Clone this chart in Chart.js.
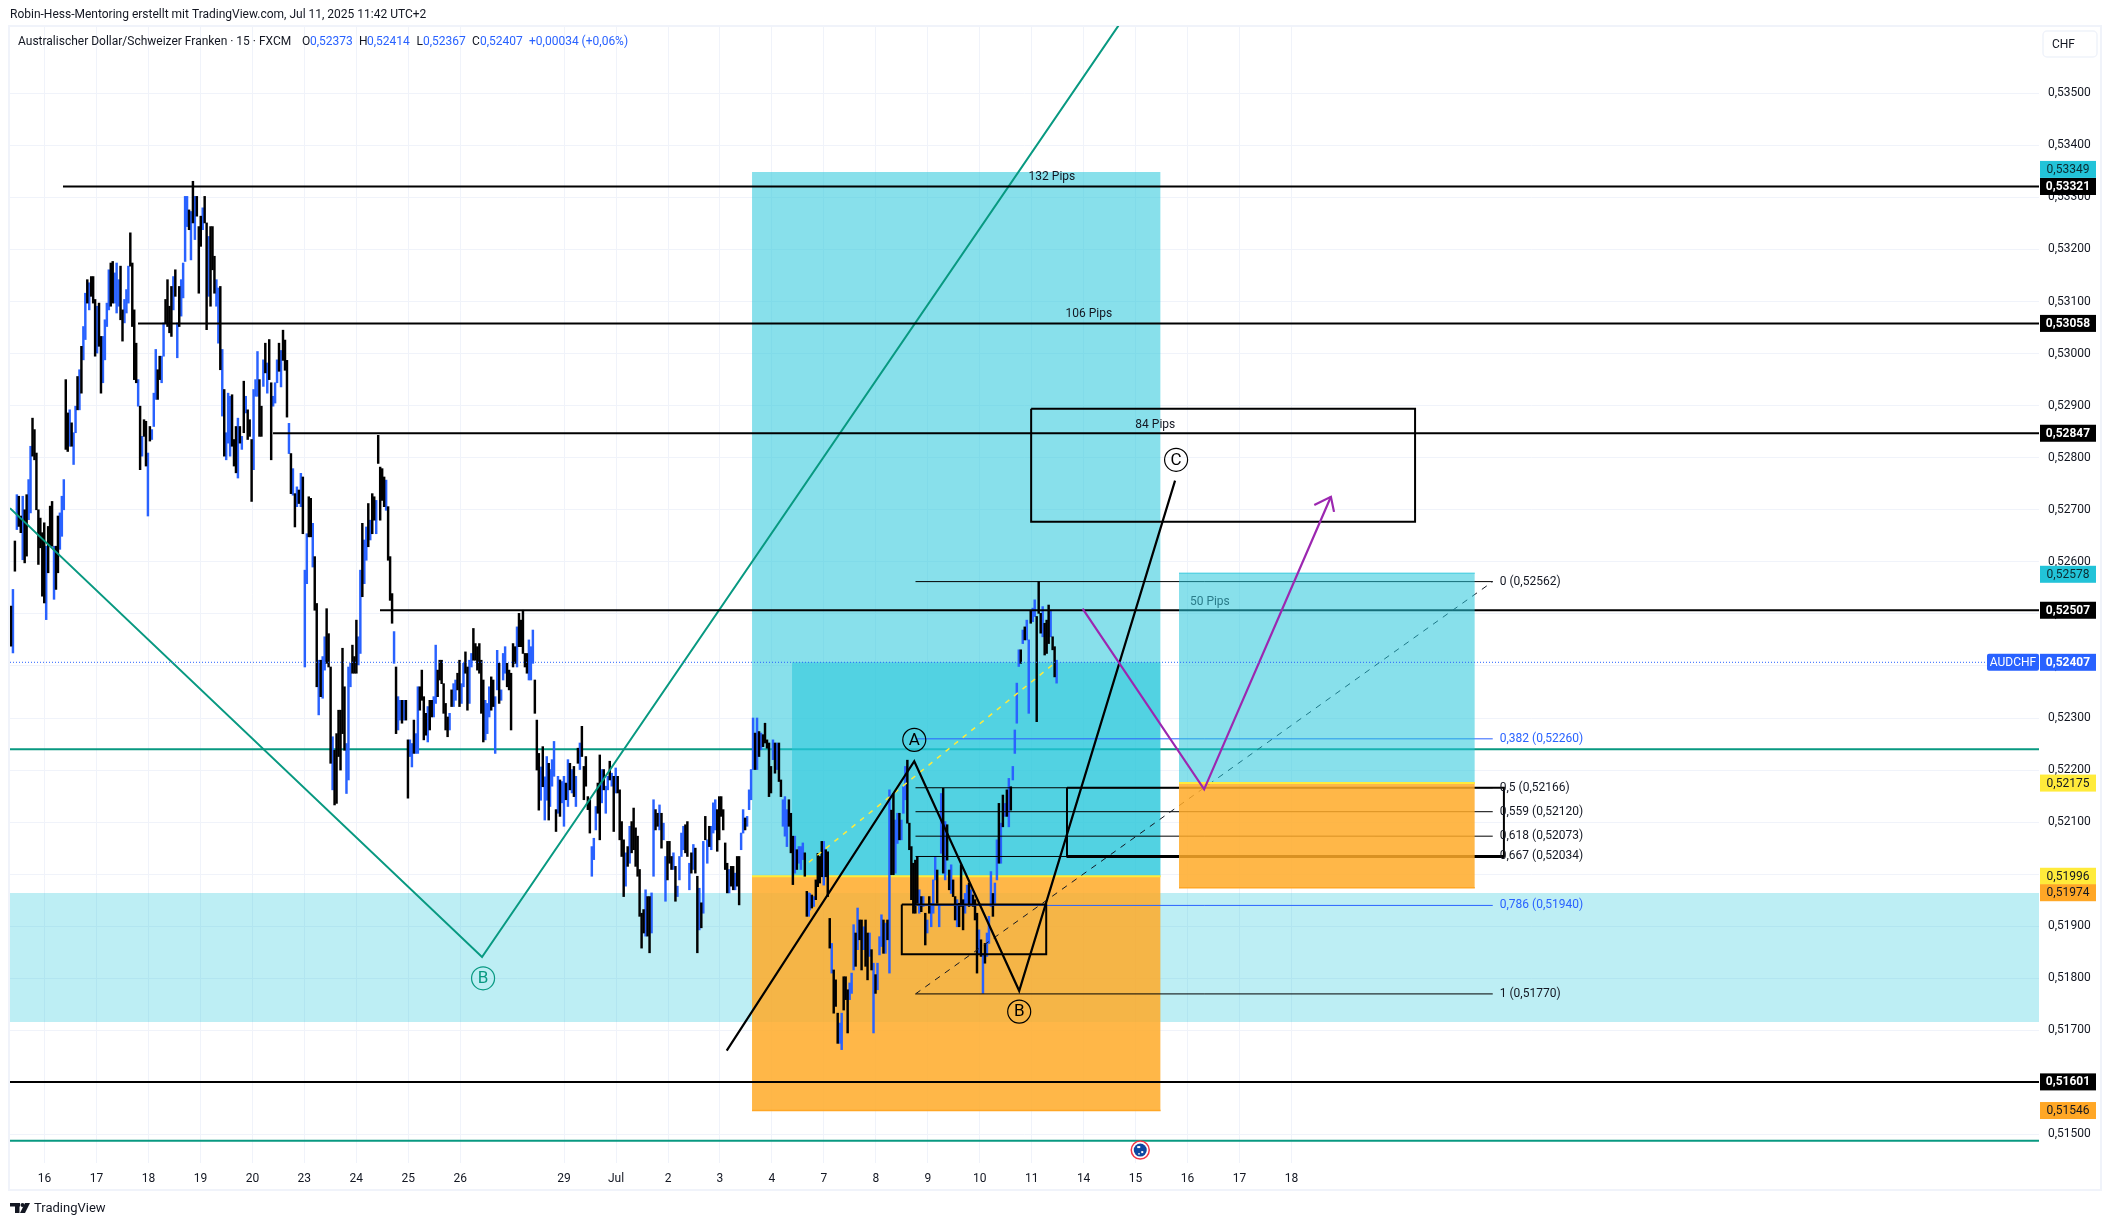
<!DOCTYPE html>
<html>
<head>
<meta charset="utf-8">
<title>AUDCHF 15</title>
<script src="https://cdn.jsdelivr.net/npm/chart.js@4"></script>
<style>
  html, body { margin: 0; padding: 0; background: #fff; }
  #wrap { width: 2111px; height: 1226px; }
</style>
</head>
<body>
<div id="wrap"><canvas id="chart" width="2111" height="1226"></canvas></div>
<script>
// Time axis: one unit is one trading day, 0 = the 16th
const dayPos = [0, 1, 2, 3, 4, 5, 6, 7, 8, 10, 11, 12, 13, 14, 15, 16, 17, 18, 19, 20, 21, 22, 23, 24];
const dayLabels = ['16', '17', '18', '19', '20', '23', '24', '25', '26', '29', 'Jul', '2', '3', '4', '7', '8', '9', '10', '11', '14', '15', '16', '17', '18'];
const priceTicks = [0.515, 0.516, 0.517, 0.518, 0.519, 0.52, 0.521, 0.522, 0.523, 0.524, 0.525, 0.526, 0.527, 0.528, 0.529, 0.53, 0.531, 0.532, 0.533, 0.534, 0.535];

// Price bars: [high, low, blue?], prices in 1e-5
const barsA = [
  [52515,52438,0],[52547,52425,1],[52640,52582,0],[52729,52662,1],[52726,52668,0],[52688,52656,0],[52726,52604,1],[52700,52598,0],
  [52729,52611,0],[52758,52681,1],[52822,52694,1],[52876,52803,0],[52854,52796,0],[52809,52700,0],[52700,52595,0],[52684,52627,0],
  [52656,52534,0],[52675,52521,0],[52630,52489,1],[52668,52579,0],[52707,52630,0],[52716,52630,0],[52630,52528,1],[52630,52547,0],
  [52688,52579,0],[52694,52624,1],[52726,52649,1],[52758,52700,1],[52950,52816,0],[52886,52812,0],[52892,52822,1],[52867,52822,0],
  [52848,52787,1],[52899,52848,1],[52956,52892,0],[52969,52892,1],[53014,52924,0],[53052,52988,1],[53116,53027,1],[53142,53097,0],
  [53136,53084,1],[53148,53110,0],[53148,53097,0],[53104,52995,0],[53091,53001,1],[53097,53014,0],[53033,52924,0],[53033,52944,1],
  [53065,52988,1],[53097,53052,1],[53161,53084,1],[53174,53091,0],[53177,53097,0],[53155,53097,1],[53174,53078,1],[53142,53091,1],
  [53168,53065,0],[53084,53024,0],[53104,53059,1],[53123,53078,1],[53168,53097,1],[53232,53168,0],[53174,53052,0],[53084,52950,0],
  [53020,52944,0],[52950,52899,1],[52899,52777,0],[52841,52803,1],[52873,52841,0],[52870,52784,0],[52809,52688,1],[52860,52832,0],
  [52854,52835,1],[52924,52860,1],[53008,52912,1],[52969,52912,0],[52995,52950,0],[52995,52944,1],[53059,52995,1],[53104,53059,0],
  [53142,53052,0],[53091,53040,0],[53129,53033,0],[53148,53084,1],[53161,53110,0],[53059,52992,1],[53129,53052,0],[53142,53072,1],
  [53174,53107,1],[53302,53177,1],[53302,53244,1],[53276,53238,0],[53273,53180,1],[53331,53251,0],[53302,53219,1],[53302,53264,0],
  [53244,53116,0],[53264,53206,0],[53280,53238,1],[53302,53251,0],[53251,53046,0],[53225,53110,1],[53244,53091,0],[53244,53161,0],
  [53187,53116,0],[53142,53091,1],[53126,53020,1],[53129,52969,0],[53008,52880,1],[52931,52803,0],[52848,52796,1],[52924,52828,1],
  [52918,52803,1],[52921,52822,0],[52835,52784,0],[52860,52771,0],[52876,52761,1],[52860,52828,0],[52841,52816,1],[52947,52848,0],
  [52918,52886,1],[52892,52835,0],[52873,52841,0],[52835,52716,0],[52931,52777,1],[52950,52918,1],[53004,52918,1],[52950,52841,0],
  [52899,52841,0],[52988,52937,1],[53020,52963,0],[52982,52924,1],[53027,52950,0],[52944,52796,0],[52918,52899,1],[52944,52905,1],
  [52988,52944,1],[53020,52966,0]
];
const barsB = [
  [53006,52936,1],[53045,52987,0],[53026,52968,0],[52987,52878,0],[52866,52808,1],[52808,52731,0],[52779,52728,1],[52731,52667,0],
  [52744,52706,1],[52738,52712,0],[52770,52706,1],[52763,52654,0],[52584,52398,1],[52654,52558,1],[52725,52648,0],[52722,52648,0],
  [52674,52590,1],[52610,52507,0],[52520,52360,0],[52411,52306,1],[52411,52341,0],[52418,52338,1],[52456,52392,1],[52510,52405,0],
  [52462,52398,0],[52398,52213,0],[52264,52162,1],[52238,52133,0],[52270,52136,0],[52315,52226,0],[52315,52200,0],[52434,52270,0],
  [52360,52238,0],[52251,52155,1],[52398,52181,1],[52405,52360,1],[52440,52386,0],[52418,52386,0],[52488,52386,0],[52456,52402,1],
  [52584,52424,1],[52674,52533,0],[52642,52558,1],[52667,52603,1],[52712,52629,0],[52680,52642,1],[52731,52654,0],[52725,52680,0],
  [52718,52654,1],[52843,52789,0],[52782,52680,0],[52779,52718,0],[52763,52706,0],[52757,52699,1],[52706,52603,0],[52610,52526,0],
  [52539,52482,0],[52466,52405,1],[52398,52270,0],[52341,52277,1],[52334,52296,1],[52334,52290,0],[52334,52296,1],[52334,52296,0],
  [52258,52146,0],[52258,52226,1],[52251,52206,1],[52296,52232,0],[52270,52232,1],[52360,52232,1],[52360,52315,0],[52392,52334,0],
  [52341,52258,0],[52309,52267,0],[52322,52254,1],[52334,52277,0],[52334,52302,0],[52341,52302,1],[52440,52328,1],[52392,52341,0],
  [52411,52373,0],[52411,52366,0],[52366,52309,0],[52328,52277,0],[52302,52264,0],[52309,52277,1],[52354,52322,0],[52366,52322,1],
  [52373,52334,1],[52386,52354,0],[52411,52322,0],[52366,52328,1],[52405,52360,1],[52427,52386,0],[52398,52315,0],[52411,52328,1],
  [52424,52398,1],[52472,52411,0],[52443,52411,0],[52437,52392,0],[52443,52386,0],[52411,52309,0],[52373,52254,0],[52334,52258,1],
  [52328,52270,1],[52360,52302,1],[52379,52315,0],[52373,52322,0],[52341,52232,1],[52430,52354,1],[52405,52328,0],[52354,52334,1],
  [52424,52373,1],[52437,52386,1],[52405,52360,0],[52392,52354,0],[52386,52277,0],[52443,52398,0],[52437,52405,0],[52475,52398,1],
  [52501,52437,0],[52488,52437,0],[52507,52424,0],[52424,52398,0],[52424,52386,0],[52450,52373,1],[52437,52373,1],[52469,52405,1],
  [52373,52309,0],[52296,52200,0],[52232,52123,0],[52206,52142,1],[52245,52168,0],[52187,52104,1],[52226,52142,1],[52213,52104,0]
];
const barsC = [
  [52201,52130,1],[52220,52169,1],[52255,52188,1],[52124,52082,0],[52188,52117,1],[52181,52111,0],[52178,52137,1],[52188,52092,1],
  [52175,52143,0],[52220,52130,1],[52213,52162,0],[52201,52156,1],[52207,52149,0],[52188,52130,1],[52242,52213,0],[52252,52201,1],
  [52284,52226,0],[52207,52143,0],[52226,52169,0],[52149,52124,0],[52143,52079,0],[52053,51996,1],[52069,52028,1],[52130,52085,1],
  [52175,52117,0],[52229,52066,0],[52201,52137,1],[52201,52162,0],[52169,52117,1],[52188,52162,1],[52217,52181,0],[52194,52169,1],
  [52188,52082,0],[52204,52156,1],[52188,52156,0],[52162,52066,0],[52101,52034,0],[52066,51957,0],[52041,51977,1],[52053,52015,0],
  [52092,52021,1],[52101,52041,0],[52127,52047,0],[52089,52015,0],[52073,51996,0],[52009,51919,0],[51925,51858,0],[51932,51887,0],
  [51970,51881,1],[51957,51881,0],[51957,51849,0],[51964,51887,1],[52143,51996,1],[52124,52085,0],[52117,52092,0],[52133,52085,1],
  [52117,52050,0],[52098,52066,1],[52034,51948,1],[52063,51989,0],[52063,52021,0],[52034,52009,0],[52041,52009,1],[52015,51948,0],
  [51977,51957,1],[52034,51989,1],[52079,52034,1],[52092,52047,1],[52095,52041,0],[52101,52034,0],[52021,51970,1],[52041,52002,0],
  [52057,52009,1],[52050,52002,0],[51996,51849,0],[51973,51893,1],[51945,51897,0],[52063,51925,1],[52111,52066,0],[52066,52021,1],
  [52092,52053,0],[52092,52047,1],[52137,52079,1],[52143,52085,1],[52124,52044,0],[52149,52066,0],[52149,52111,0],[52124,52085,0],
  [52060,52009,0],[52021,51964,0],[52009,51964,1],[52015,51977,0],[52015,51970,0],[52002,51970,1],[52034,51977,0],[52034,51941,0],
  [52079,52047,1],[52124,52079,1],[52108,52085,0],[52111,52092,1],[52162,52124,1],[52201,52143,1],[52300,52201,1],[52271,52201,0],
  [52300,52201,1],[52274,52226,0],[52271,52239,1],[52268,52245,0],[52290,52252,0],[52258,52242,0],[52252,52149,0],[52207,52156,0],
  [52258,52220,1],[52252,52194,0],[52252,52201,1],[52252,52178,0],[52181,52149,0],[52143,52092,1],[52149,52073,1],[52124,52053,1],
  [52143,52092,0],[52117,52041,0],[52073,51980,0],[52073,52002,1],[52047,52009,0],[52053,52021,1],[52053,52009,1],[52060,52028,1],
  [52041,51996,0],[51967,51919,0],[51964,51919,1]
];
const barsD = [
  [51963,51931,1],[51960,51935,0],[51957,51938,1],[51989,51951,0],[52040,51976,0],[52034,51983,0],[52063,51995,0],[52063,51979,1],
  [52047,51995,0],[52043,51957,0],[51915,51858,0],[51867,51810,1],[51816,51733,0],[51797,51746,0],[51733,51675,0],[51714,51675,1],
  [51733,51663,1],[51803,51739,0],[51803,51759,0],[51778,51695,0],[51791,51759,1],[51810,51771,1],[51903,51816,1],[51887,51823,0],
  [51935,51855,1],[51912,51874,0],[51912,51816,0],[51899,51855,1],[51912,51823,0],[51887,51797,0],[51887,51842,1],[51855,51816,0],
  [51829,51695,1],[51807,51771,0],[51829,51778,1],[51880,51845,1],[51922,51861,1],[51912,51848,0],[51906,51848,1],[51912,51874,0],
  [52162,51810,1],[52123,51999,0],[52155,51999,0],[52104,52002,1],[52117,52059,1],[52117,52066,0],[52104,52066,1],[52168,52117,1],
  [52207,52143,1],[52219,52098,0],[52098,52047,0],[52053,51951,0],[52021,51925,0],[52027,51925,0],[52034,51944,0],[51970,51925,1],
  [51957,51928,0],[51957,51938,1],[51925,51864,0],[51912,51887,1],[51957,51925,0],[51944,51899,1],[51989,51925,1],[52034,51989,1],
  [52008,51944,0],[51941,51899,1],[52155,52040,1],[52165,52002,0],[52101,51989,1],[52095,52027,0],[52008,51970,0],[52018,51963,1],
  [51989,51957,0],[51957,51912,0],[51951,51899,1],[51944,51899,0],[52018,51938,0],[51951,51893,0],[51963,51925,1],[51979,51944,1],
  [51983,51938,0],[51970,51941,1],[51960,51938,0],[51951,51912,0],[51925,51810,0],[51893,51848,1],[51874,51842,0],[51848,51771,1],
  [51867,51829,0],[51887,51842,1],[51919,51867,1],[52005,51938,1],[51963,51919,0],[51983,51944,1],[52066,51989,1],[52136,52021,0],
  [52098,52021,1],[52152,52091,0],[52136,52111,1],[52162,52111,0],[52184,52091,1],[52168,52123,0],[52207,52181,1],[52277,52232,1],
  [52367,52290,1],[52431,52399,1],[52431,52405,0],[52469,52443,1],[52475,52450,0],[52488,52450,1],[52450,52309,1],[52507,52482,0],
  [52511,52485,1],[52527,52495,1],[52495,52293,0],[52562,52501,0],[52501,52463,0],[52514,52456,1],[52482,52421,0],[52488,52424,0],
  [52517,52443,0],[52507,52456,1],[52456,52431,0],[52437,52379,0],[52411,52367,1]
];
// First and last day position covered by each bar list
const barSpans = [[-0.647, 4.512], [4.551, 9.704], [9.729, 14.71], [14.73, 19.48]];

// Horizontal levels
const blackLevels = [0.53321, 0.53058, 0.52847, 0.52507, 0.51601];
const blackStarts = [0.354, 1.798, 4.397, 6.456, -0.666];
const tealLevels = [0.5224, 0.51488];
const lastPrice = 0.52407;

// Fibonacci retracement
const fibRatios = ['0', '0,382', '0,5', '0,559', '0,618', '0,667', '0,786', '1'];
const fibPrices = [0.52562, 0.5226, 0.52166, 0.5212, 0.52073, 0.52034, 0.5194, 0.5177];
const fibBlue = [false, true, false, false, false, false, true, false];

// Drawn paths: day positions and prices
const tealPathDays = [-0.666, 8.42, 20.67];
const tealPathPrices = [0.52703, 0.51841, 0.5363];
const waveDays = [13.13, 16.74, 18.76, 21.76];
const wavePrices = [0.51661, 0.52217, 0.51776, 0.52756];
const purpleDays = [19.98, 22.32, 24.76];
const purplePrices = [0.5251, 0.52163, 0.52725];
const arrowDays = [24.44, 24.76, 24.82];
const arrowPrices = [0.52709, 0.52725, 0.52696];
const yellowDays = [14.71, 19.45];
const yellowPrices = [0.52023, 0.52406];

// Markers and pip labels
const markerLetters = ['A', 'B', 'C', 'B'];
const markerDays = [16.74, 18.76, 21.78, 8.44];
const markerPrices = [0.52258, 0.51736, 0.52796, 0.518];
const pipLabels = ['132 Pips', '106 Pips', '84 Pips', '50 Pips'];
const pipDays = [19.39, 20.1, 21.38, 22.43];
const pipPrices = [0.53339, 0.53076, 0.52863, 0.52523];

// Price tags on the axis
const tagPrices = [0.53349, 0.53321, 0.53058, 0.52847, 0.52578, 0.52507, 0.52175, 0.51996, 0.51974, 0.51601, 0.51546];
const tagFills = ['#22c3d8', '#000', '#000', '#000', '#22c3d8', '#000', '#ffeb3b', '#ffeb3b', '#ffa726', '#000', '#ffa726'];
const tagInks = ['#0b2a30', '#fff', '#fff', '#fff', '#0b2a30', '#fff', '#131722', '#131722', '#131722', '#fff', '#131722'];
const tagNudge = [-2.5, 0, 0, 0, 1, 0, 0, 0, 5, 0, 0];

const FONT = 'Roboto, "Noto Sans", sans-serif';
const X_MIN = -0.666, X_MAX = 38.39, Y_MIN = 0.514452, Y_MAX = 0.536293;

function comma(v) { return v.toFixed(5).replace('.', ','); }

// Layers are listed bottom to top, order is set from the position in this list
const layers = [];

function addLine(days, prices, color, width, extra) {
  layers.push(Object.assign({
    type: 'line',
    data: days.map((d, i) => ({ x: d, y: prices[i] })),
    borderColor: color,
    borderWidth: width,
    pointRadius: 0,
    fill: false
  }, extra || {}));
}

function addZone(x1, x2, top, bottom, color) {
  layers.push({
    type: 'line',
    data: [{ x: x1, y: top }, { x: x2, y: top }],
    borderColor: 'transparent',
    borderWidth: 0,
    pointRadius: 0,
    backgroundColor: color,
    fill: { value: bottom }
  });
}

function addBox(x1, x2, top, bottom, width) {
  addLine([x1, x2, x2, x1, x1], [top, top, bottom, bottom, top], '#000', width);
}

const ZONE_BLUE = 'rgba(38,198,218,0.55)';
const ZONE_ORANGE = 'rgba(255,170,40,0.85)';

// Band and teal levels sit under everything
addZone(X_MIN, X_MAX, 0.51964, 0.51716, 'rgba(38,198,218,0.3)');
tealLevels.forEach(v => addLine([X_MIN, X_MAX], [v, v], '#089981', 2));

// Left trade box
addZone(13.617, 21.482, 0.53349, 0.51996, ZONE_BLUE);
addZone(14.387, 21.482, 0.52407, 0.51996, ZONE_BLUE);
addZone(13.617, 21.482, 0.51996, 0.51546, ZONE_ORANGE);
addLine([13.617, 21.482], [0.51996, 0.51996], '#ffeb3b', 2);

// Price bars
const blueBars = [], blackBars = [];
[barsA, barsB, barsC, barsD].forEach((rows, p) => {
  const span = barSpans[p];
  rows.forEach((r, i) => {
    const pt = { x: span[0] + (span[1] - span[0]) * i / (rows.length - 1), y: [r[1] / 1e5, r[0] / 1e5] };
    (r[2] ? blueBars : blackBars).push(pt);
  });
});
layers.push({ type: 'bar', data: blueBars, backgroundColor: '#2962ff', barThickness: 1.8, grouped: false });
layers.push({ type: 'bar', data: blackBars, backgroundColor: '#000', barThickness: 1.8, grouped: false });

// Zigzags and levels
addLine(tealPathDays, tealPathPrices, '#089981', 2);
blackLevels.forEach((v, i) => addLine([blackStarts[i], X_MAX], [v, v], '#000', 2));
fibPrices.forEach((v, i) => addLine([16.764, 27.875], [v, v], fibBlue[i] ? '#2962ff' : '#000', 1));
addLine([16.764, 27.875], [0.5177, 0.52562], '#131722', 1, { borderDash: [6, 6] });
addLine(yellowDays, yellowPrices, '#ffeb3b', 1.5, { borderDash: [5, 6] });
addBox(19.68, 28.09, 0.52166, 0.52034, 2);
addLine([19.68, 28.09], [0.52034, 0.52034], '#000', 3);
addBox(16.5, 19.28, 0.51942, 0.51846, 2);
addBox(18.99, 26.38, 0.52894, 0.52677, 2);
addLine(waveDays, wavePrices, '#000', 2.2);

// Right trade box lies over the levels
addZone(21.836, 27.53, 0.52578, 0.52175, ZONE_BLUE);
addZone(21.836, 27.53, 0.52175, 0.51974, ZONE_ORANGE);
addLine([21.836, 27.53], [0.52578, 0.52578], 'rgba(38,198,218,0.6)', 1.5);
addLine([21.836, 27.53], [0.52175, 0.52175], '#ffeb3b', 2);
addLine([21.836, 27.53], [0.51974, 0.51974], '#ffa726', 1.5);
addLine([13.617, 21.482], [0.51546, 0.51546], '#ffa726', 1.5);

// Purple path, last price, markers
addLine(purpleDays, purplePrices, '#9c27b0', 2.2);
addLine(arrowDays, arrowPrices, '#9c27b0', 2.2);
addLine([X_MIN, X_MAX], [lastPrice, lastPrice], '#2962ff', 1, { borderDash: [1, 2] });
markerLetters.forEach((m, i) => {
  const col = i === 3 ? '#089981' : '#000';
  layers.push({
    type: 'line',
    data: [{ x: markerDays[i], y: markerPrices[i] }],
    showLine: false,
    pointRadius: 11.5,
    pointBorderWidth: 1.2,
    pointBorderColor: col,
    pointBackgroundColor: 'transparent'
  });
});
layers.forEach((d, i) => { d.order = layers.length - i; });

function text(ctx, str, x, y, font, color, align) {
  ctx.font = font;
  ctx.fillStyle = color;
  ctx.textAlign = align || 'left';
  ctx.textBaseline = 'middle';
  ctx.fillText(str, x, y);
}

// Frame, legend, labels and axis tags
const overlays = {
  id: 'overlays',
  beforeDraw(chart) {
    const ctx = chart.ctx;
    ctx.save();
    ctx.fillStyle = '#fff';
    ctx.fillRect(0, 0, chart.width, chart.height);
    ctx.strokeStyle = '#f0f3fa';
    ctx.lineWidth = 2;
    ctx.strokeRect(9, 26, 2092, 1164);
    ctx.restore();
  },
  afterDraw(chart) {
    const ctx = chart.ctx, xs = chart.scales.x, ys = chart.scales.y;
    ctx.save();
    const f12 = '12px ' + FONT;

    // Header lines
    text(ctx, 'Robin-Hess-Mentoring erstellt mit TradingView.com, Jul 11, 2025 11:42 UTC+2', 10, 15, f12, '#131722');
    text(ctx, 'Australischer Dollar/Schweizer Franken · 15 · FXCM', 18, 42, f12, '#131722');
    const ohlc = [['O', 302, '0,52373', 310], ['H', 359, '0,52414', 367], ['L', 416.5, '0,52367', 423], ['C', 472, '0,52407', 480]];
    ohlc.forEach(o => {
      text(ctx, o[0], o[1], 42, f12, '#131722');
      text(ctx, o[2], o[3], 42, f12, '#2962ff');
    });
    text(ctx, '+0,00034 (+0,06%)', 529, 42, f12, '#2962ff');

    // Pip labels
    pipLabels.forEach((p, i) => {
      text(ctx, p, xs.getPixelForValue(pipDays[i]), ys.getPixelForValue(pipPrices[i]), f12, i === 3 ? '#2b7c8a' : '#131722', 'center');
    });

    // Fibonacci labels
    fibRatios.forEach((r, i) => {
      text(ctx, r + ' (' + comma(fibPrices[i]) + ')', xs.getPixelForValue(28.01), ys.getPixelForValue(fibPrices[i]), f12, fibBlue[i] ? '#2962ff' : '#131722');
    });

    // Marker letters
    markerLetters.forEach((m, i) => {
      text(ctx, m, xs.getPixelForValue(markerDays[i]), ys.getPixelForValue(markerPrices[i]) + 0.5, '17px ' + FONT, i === 3 ? '#089981' : '#000', 'center');
    });

    // CHF box
    ctx.strokeStyle = '#f0f3fa';
    ctx.lineWidth = 1.5;
    ctx.beginPath();
    ctx.roundRect(2043, 31, 54, 26, 4);
    ctx.stroke();
    text(ctx, 'CHF', 2052, 45, f12, '#131722');

    // Axis tags
    tagPrices.forEach((v, i) => {
      const y = ys.getPixelForValue(v) + tagNudge[i];
      ctx.fillStyle = tagFills[i];
      ctx.fillRect(2040, y - 8.5, 56, 17);
      text(ctx, comma(v), 2068, y + 0.5, (tagInks[i] === '#fff' ? 'bold ' : '') + f12, tagInks[i], 'center');
    });
    const ly = ys.getPixelForValue(lastPrice);
    ctx.fillStyle = '#2962ff';
    ctx.beginPath();
    ctx.roundRect(1987, ly - 8.5, 52, 17, 2);
    ctx.fill();
    ctx.fillRect(2040, ly - 8.5, 56, 17);
    text(ctx, 'AUDCHF', 2013, ly + 0.5, f12, '#fff', 'center');
    text(ctx, comma(lastPrice), 2068, ly + 0.5, 'bold ' + f12, '#fff', 'center');

    // Flag badge on the time axis
    const fx = xs.getPixelForValue(21.09), fy = ys.getPixelForValue(0.5147);
    ctx.fillStyle = '#fff';
    ctx.strokeStyle = '#f23645';
    ctx.lineWidth = 1.5;
    ctx.beginPath(); ctx.arc(fx, fy, 9, 0, Math.PI * 2); ctx.fill(); ctx.stroke();
    ctx.fillStyle = '#0d47a1';
    ctx.beginPath(); ctx.arc(fx, fy, 6.5, 0, Math.PI * 2); ctx.fill();
    ctx.fillStyle = '#fff';
    ctx.fillRect(fx - 3, fy - 4, 3, 2);
    ctx.fillRect(fx + 1, fy + 1, 2, 2);
    ctx.fillRect(fx - 2, fy + 3, 1.5, 1.5);

    // Logo and wordmark
    ctx.fillStyle = '#131722';
    ctx.fillRect(10, 1203, 10, 3.5);
    ctx.fillRect(15, 1203, 4.5, 10);
    ctx.beginPath(); ctx.arc(22.5, 1205, 2, 0, Math.PI * 2); ctx.fill();
    ctx.beginPath();
    ctx.moveTo(25, 1203); ctx.lineTo(30, 1203); ctx.lineTo(25, 1213); ctx.lineTo(20, 1213);
    ctx.fill();
    text(ctx, 'TradingView', 34, 1208.5, '13px ' + FONT, '#131722');
    ctx.restore();
  }
};

new Chart(document.getElementById('chart'), {
  type: 'bar',
  data: { datasets: layers },
  plugins: [overlays],
  options: {
    responsive: false,
    animation: false,
    // autoPadding would push the plot area in for the big marker points
    layout: { autoPadding: false, padding: { left: 10, top: 26, right: 0, bottom: 0 } },
    plugins: { legend: { display: false }, tooltip: { enabled: false } },
    scales: {
      x: {
        type: 'linear',
        position: 'bottom',
        min: X_MIN,
        max: X_MAX,
        offset: false,
        afterBuildTicks: axis => { axis.ticks = dayPos.map(v => ({ value: v })); },
        afterFit: axis => { axis.height = 63; },
        grid: { color: '#f0f3fa', offset: false, drawTicks: false },
        border: { display: false },
        ticks: {
          autoSkip: false,
          maxRotation: 0,
          padding: 9,
          color: '#131722',
          font: { family: FONT, size: 12 },
          callback: v => dayLabels[dayPos.indexOf(v)]
        }
      },
      y: {
        type: 'linear',
        position: 'right',
        min: Y_MIN,
        max: Y_MAX,
        afterBuildTicks: axis => { axis.ticks = priceTicks.map(v => ({ value: v })); },
        afterFit: axis => { axis.width = 72; },
        grid: { color: '#f0f3fa', drawTicks: false },
        border: { display: false },
        ticks: {
          padding: 9,
          color: '#131722',
          font: { family: FONT, size: 12 },
          callback: v => comma(v)
        }
      }
    }
  }
});
</script>
</body>
</html>
